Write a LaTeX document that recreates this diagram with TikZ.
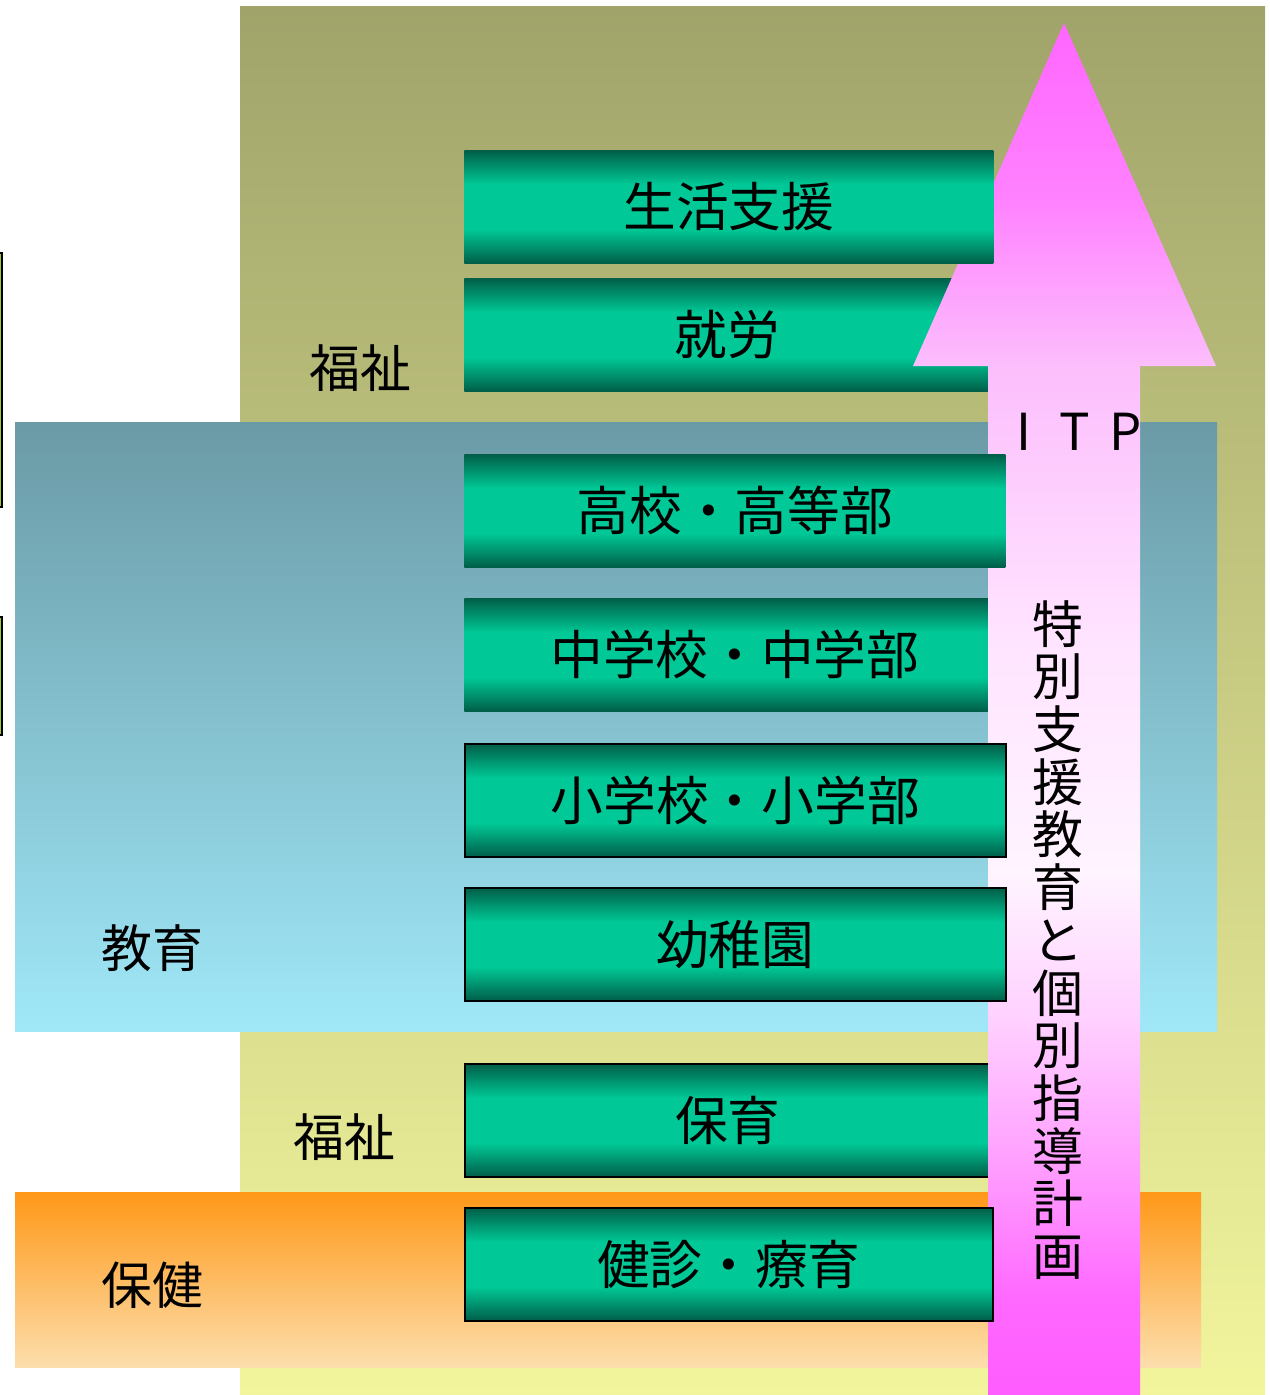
\documentclass[tikz,border=0pt]{standalone}
\usepackage{fontspec}
\setmainfont{Noto Sans CJK JP}
\usetikzlibrary{positioning}

\definecolor{olivetop}{HTML}{A0A46A}
\definecolor{olivebot}{HTML}{F2F59C}
\definecolor{bluetop}{HTML}{6A9AA6}
\definecolor{bluebot}{HTML}{A0E8F8}
\definecolor{orangetop}{HTML}{FF9818}
\definecolor{orangebot}{HTML}{FCDEAC}
\definecolor{dkgreen}{HTML}{005E48}
\definecolor{ltgreen}{HTML}{00C896}
\definecolor{barlime}{HTML}{9ACD32}
\definecolor{pinktop}{HTML}{FF66FF}
\definecolor{pinkF}{HTML}{FF82FF}
\definecolor{pinkE}{HTML}{FCBEFC}
\definecolor{pinkD}{HTML}{FFE4FF}
\definecolor{pinkwhite}{HTML}{FFF4FF}
\definecolor{pinkA}{HTML}{FFD0FF}
\definecolor{pinkB}{HTML}{FF90FF}
\definecolor{pinkC}{HTML}{FF68FF}
\definecolor{pinkbot}{HTML}{FF5CFF}

% green bar shading (dark - light - dark)
\pgfdeclareverticalshading{barshade}{100bp}{color(0bp)=(dkgreen); color(25bp)=(dkgreen); color(40bp)=(ltgreen); color(60bp)=(ltgreen); color(75bp)=(dkgreen); color(100bp)=(dkgreen)}
% pink arrow shading
\pgfdeclareverticalshading{itpshade}{100bp}{color(0bp)=(pinkbot); color(25bp)=(pinkbot); color(28.5bp)=(pinkC); color(32bp)=(pinkB); color(38.6bp)=(pinkA); color(44bp)=(pinkwhite); color(52.5bp)=(pinkD); color(62.5bp)=(pinkE); color(68.5bp)=(pinkF); color(75bp)=(pinktop); color(100bp)=(pinktop)}

\begin{document}
\begin{tikzpicture}[x=0.02cm,y=-0.02cm,font=\fontsize{29pt}{30pt}\selectfont]
\tikzset{
    %Define style for the green bars
    stage/.style={
           rectangle,
           anchor=north west,
           shade,
           shading=barshade,
           minimum height=2.26cm,
           inner sep=0pt,
           font=\fontsize{30pt}{30pt}\selectfont},
    % bars with a black frame
    framedstage/.style={
           stage,
           draw=black,
           line width=1pt},
    % left edge marks
    edgemark/.style={
           fill=barlime,
           draw=black,
           line width=0.6pt}
}
	\useasboundingbox (0,0) rectangle (1270,1395);

 %panels
	\shade[top color=olivetop,bottom color=olivebot] (240,7) rectangle (1265,1395);
	\shade[top color=bluetop,bottom color=bluebot] (15,422) rectangle (1217,1031);
	\shade[top color=orangetop,bottom color=orangebot] (15,1192) rectangle (1201,1367);

	\draw[edgemark] (-10,253) rectangle (2,507);
	\draw[edgemark] (-10,617) rectangle (2,735);

 %bars behind the arrow
	\node[stage,minimum width=10.52cm] (work) at (464,278) {就労};
	\node[stage,minimum width=10.82cm] (junior) at (464,598) {中学校・中学部};
	\node[framedstage,minimum width=10.52cm] (nursery) at (464,1063) {保育};

 %arrow
	\shade[shading=itpshade] (988,1395) -- (988,366) -- (913,366) -- (1064,23) -- (1216,366) -- (1140,366) -- (1140,1395) -- cycle;

 %bars in front of the arrow
	\node[stage,minimum width=10.58cm] (life) at (464,150) {生活支援};
	\node[stage,minimum width=10.82cm] (high) at (464,454) {高校・高等部};
	\node[framedstage,minimum width=10.82cm] (primary) at (464,743) {小学校・小学部};
	\node[framedstage,minimum width=10.82cm] (kinder) at (464,887) {幼稚園};
	\node[framedstage,minimum width=10.56cm] (health) at (464,1207) {健診・療育};

	\node (welfareup) at (360,368) {福祉};
	\node (education) at (152,948) {教育};
	\node (welfaredown) at (344,1137) {福祉};
	\node (care) at (152,1285) {保健};

	\node (itp) at (1075,432) {\makebox[1em]{I}\makebox[1em]{T}\makebox[1em]{P}};
	\node[align=center,inner sep=0pt] (itpplan) at (1058,940) {特\\別\\支\\援\\教\\育\\と\\個\\別\\指\\導\\計\\画};

\end{tikzpicture}
\end{document}
